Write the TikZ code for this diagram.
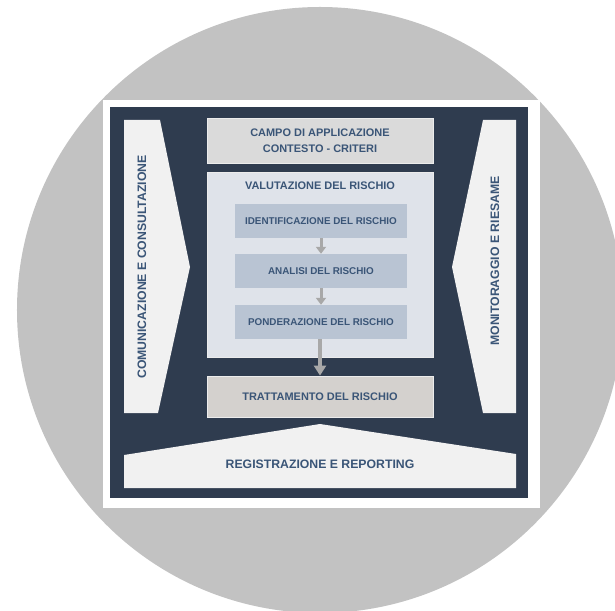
\documentclass[tikz,border=0pt]{standalone}
\usepackage{fontspec}
\setmainfont{Liberation Sans}
\usetikzlibrary{arrows.meta}
\definecolor{circgrey}{HTML}{C2C2C2}
\definecolor{navy}{HTML}{2F3C4F}
\definecolor{paleshape}{HTML}{F1F1F1}
\definecolor{campofill}{HTML}{DADADA}
\definecolor{valfill}{HTML}{DFE3EA}
\definecolor{innerfill}{HTML}{B9C4D3}
\definecolor{trattfill}{HTML}{D4D1CE}
\definecolor{txtblue}{HTML}{3A5577}
\definecolor{arrgrey}{HTML}{A8A8A8}
\tikzset{
  lbl/.style={text=txtblue, font=\bfseries\fontsize{11}{13}\selectfont, align=center, inner sep=0pt},
  lblsmall/.style={text=txtblue, font=\bfseries\fontsize{9.9}{12}\selectfont, inner sep=0pt},
  lblbig/.style={text=txtblue, font=\bfseries\fontsize{12.3}{14}\selectfont, inner sep=0pt},
  bigbox/.style={minimum width=226bp, inner sep=0pt, draw=white!85!gray, line width=0.8bp},
  innerbox/.style={fill=innerfill, minimum width=172bp, minimum height=34bp, inner sep=0pt},
  smallarr/.style={draw=arrgrey, line width=3bp, -{Triangle[width=10bp,length=7bp]}},
  bigarr/.style={draw=arrgrey, line width=4bp, -{Triangle[width=12bp,length=10bp]}},
}
\begin{document}
\begin{tikzpicture}[x=1bp,y=-1bp]
\useasboundingbox (0,0) rectangle (615,611);
% background circle
\fill[circgrey] (320,310) circle (303bp);
% card
\fill[white] (103,100) rectangle (540,508);
\fill[navy] (110,107) rectangle (528,498);
% left chevron
\fill[paleshape] (124,120) -- (160,120) -- (190,267) -- (158,413) -- (124,413) -- cycle;
\node[lblbig, rotate=90] (comun) at (142,267) {COMUNICAZIONE E CONSULTAZIONE};
% right chevron
\fill[paleshape] (516,120) -- (483,120) -- (452,267) -- (483,413) -- (516,413) -- cycle;
\node[lblbig, rotate=90] (monit) at (495,261) {MONITORAGGIO E RIESAME};
% registrazione
\fill[paleshape] (124,455) -- (320,424) -- (516,454) -- (516,488) -- (124,488) -- cycle;
\node[lblbig] (regis) at (320,464) {REGISTRAZIONE E REPORTING};
% campo
\node[bigbox, fill=campofill, minimum height=45bp] (campo) at (320,140.5) {};
\node[lbl, font=\bfseries\fontsize{11}{16}\selectfont] (campotxt) at (320,141) {CAMPO DI APPLICAZIONE\\CONTESTO - CRITERI};
% valutazione
\node[bigbox, fill=valfill, minimum height=185bp] (valut) at (320,264.5) {};
\node[lbl] (valtxt) at (320,186) {VALUTAZIONE DEL RISCHIO};
\node[innerbox] (ident) at (321,221) {};
\node[lblsmall] (identtxt) at (321,221) {IDENTIFICAZIONE DEL RISCHIO};
\node[innerbox] (anal) at (321,271) {};
\node[lblsmall] (analtxt) at (321,271) {ANALISI DEL RISCHIO};
\node[innerbox] (pond) at (321,322) {};
\node[lblsmall] (pondtxt) at (321,322) {PONDERAZIONE DEL RISCHIO};
% trattamento
\node[bigbox, fill=trattfill, minimum height=41bp] (tratt) at (320,396.5) {};
\node[lbl] (tratttxt) at (320,397) {TRATTAMENTO DEL RISCHIO};
% arrows
\draw[smallarr] (ident.south) -- (anal.north);
\draw[smallarr] (anal.south) -- (pond.north);
\draw[bigarr] (pond.south -| tratt.north) -- (tratt.north);
\end{tikzpicture}
\end{document}
